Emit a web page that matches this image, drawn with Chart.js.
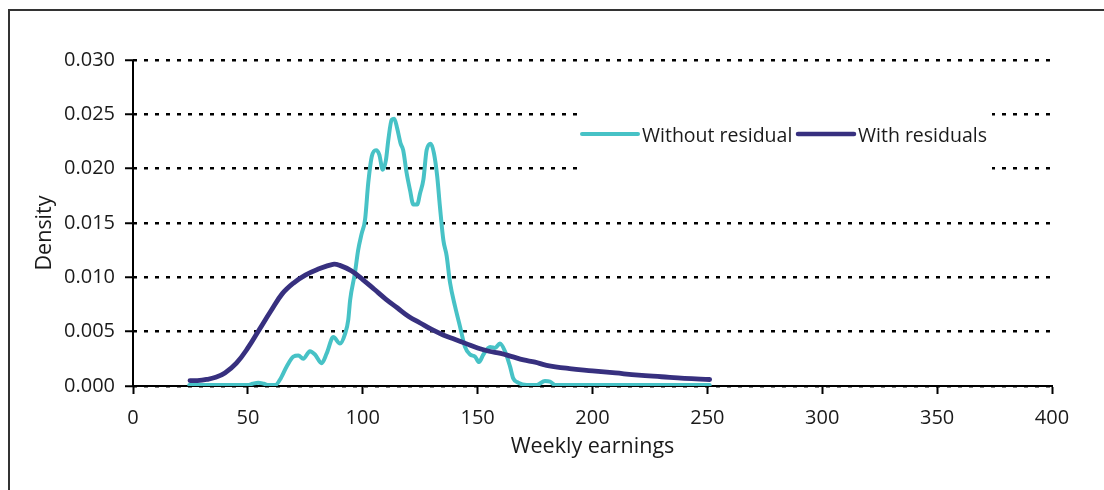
<!DOCTYPE html>
<html>
<head>
<meta charset="utf-8">
<script src="https://cdn.jsdelivr.net/npm/chart.js@4.4.1/dist/chart.umd.min.js"></script>
<style>
  html, body { margin: 0; padding: 0; background: #ffffff; }
  #c { display: block; }
</style>
</head>
<body>
<canvas id="c" width="1104" height="490"></canvas>
<script>
// ---- Data ----
const seriesNames = ["Without residual", "With residuals"];

const withoutX = [24.5, 30, 40, 50, 52, 54.5, 57, 59, 62, 64, 66.9, 69.8, 72, 74.1, 77, 79.2, 82.1, 84.3, 87.2, 90.1, 92.3, 93.7, 94.5, 96.6, 98, 99.5, 101, 102.4, 103.9, 105.8, 107.2, 108.7, 110.1, 111.1, 112.6, 113.7, 115, 116.5, 117.6, 119.1, 120.6, 122, 123.7, 124.9, 126.4, 127.8, 129.6, 131, 132.4, 133.6, 135.1, 136.5, 138, 140.2, 142.3, 144.5, 146.7, 148.9, 150.6, 152.5, 155.4, 157.6, 159.7, 161.9, 164.1, 165.5, 167.7, 171.4, 175.7, 179.3, 181.5, 183.7, 190, 200, 220, 251];
const withoutY = [0.0001, 0.0001, 0.0001, 0.0001, 0.0002, 0.0003, 0.0002, 0.0001, 0.0001, 0.0006, 0.0018, 0.0027, 0.0028, 0.0025, 0.0032, 0.0029, 0.0021, 0.0030, 0.0045, 0.0039, 0.0048, 0.0061, 0.0079, 0.0104, 0.0125, 0.0140, 0.0153, 0.0187, 0.0211, 0.0217, 0.0213, 0.0199, 0.0208, 0.0226, 0.0245, 0.0246, 0.0237, 0.0223, 0.0217, 0.0196, 0.0180, 0.0167, 0.0167, 0.0177, 0.0190, 0.0217, 0.0223, 0.0214, 0.0193, 0.0165, 0.0134, 0.0120, 0.0095, 0.0073, 0.0055, 0.0036, 0.0029, 0.0027, 0.0022, 0.0029, 0.0036, 0.0035, 0.0039, 0.0032, 0.0018, 0.0007, 0.0003, 0.0001, 0.0001, 0.00045, 0.0004, 0.0001, 0.0001, 0.0001, 0.0001, 0.0001];

const withX = [24.8, 28, 32, 36, 40, 45, 50, 55, 60, 65, 70, 75, 80, 87, 90, 95, 100, 105, 110, 115, 120, 125, 130, 135, 140, 145, 150, 155, 160, 165, 170, 175, 180, 190, 200, 210, 220, 230, 240, 251];
const withY = [0.0005, 0.0005, 0.0006, 0.0008, 0.0012, 0.0021, 0.0035, 0.0052, 0.0069, 0.0085, 0.0095, 0.0102, 0.0107, 0.0112, 0.0111, 0.0106, 0.0098, 0.0089, 0.0080, 0.0072, 0.0064, 0.0058, 0.0052, 0.0047, 0.0043, 0.0039, 0.0035, 0.0032, 0.0030, 0.0027, 0.0024, 0.0022, 0.0019, 0.0016, 0.0014, 0.0012, 0.0010, 0.00085, 0.0007, 0.0006];

const xTitle = "Weekly earnings";
const yTitle = "Density";
const xMin = 0, xMax = 400, xStep = 50;
const yMin = 0, yMax = 0.03, yStep = 0.005;

// ---- Styles ----
const cyan = "#47C2C6";
const navy = "#37307F";
const FONT = "'Open Sans', 'Noto Sans', sans-serif";
const TEXT = "#1a1a1a";

function pts(xs, ys) { return xs.map((x, i) => ({ x: x, y: ys[i] })); }

Chart.defaults.font.family = FONT;
Chart.defaults.color = TEXT;

const framePlugin = {
  id: 'frame',
  beforeDraw(chart) {
    const ctx = chart.ctx;
    ctx.save();
    ctx.fillStyle = '#ffffff';
    ctx.fillRect(0, 0, chart.width, chart.height);
    ctx.strokeStyle = '#333333';
    ctx.lineWidth = 2;
    ctx.beginPath();
    ctx.moveTo(9, chart.height);
    ctx.lineTo(9, 10);
    ctx.lineTo(chart.width, 10);
    ctx.stroke();
    ctx.restore();
  },
  afterDraw(chart) {
    const ctx = chart.ctx;
    const ys = chart.scales.y;
    const area = chart.chartArea;
    ctx.save();
    // solid y axis line
    ctx.strokeStyle = '#000';
    ctx.lineWidth = 2;
    ctx.beginPath();
    ctx.moveTo(ys.right, area.top);
    ctx.lineTo(ys.right, area.bottom);
    ctx.stroke();
    // y axis title
    ctx.save();
    ctx.translate(45, (area.top + area.bottom) / 2 + 10);
    ctx.rotate(-Math.PI / 2);
    ctx.font = "21.5px " + FONT;
    ctx.fillStyle = TEXT;
    ctx.textAlign = 'center';
    ctx.textBaseline = 'middle';
    ctx.fillText(yTitle, 0, 0);
    ctx.restore();
    // legend box
    ctx.fillStyle = '#ffffff';
    ctx.fillRect(578, 104, 414, 76);
    const items = [
      { x: 582, color: cyan, w: 4, label: chart.data.datasets[0].label },
      { x: 798, color: navy, w: 4.5, label: chart.data.datasets[1].label }
    ];
    const cy = 134;
    ctx.font = "19.5px " + FONT;
    ctx.textBaseline = 'middle';
    ctx.textAlign = 'left';
    items.forEach(it => {
      ctx.strokeStyle = it.color;
      ctx.lineWidth = it.w;
      ctx.lineCap = 'round';
      ctx.beginPath();
      ctx.moveTo(it.x, cy);
      ctx.lineTo(it.x + 56, cy);
      ctx.stroke();
      ctx.fillStyle = TEXT;
      ctx.fillText(it.label, it.x + 60, cy + 2);
    });
    ctx.restore();
  }
};

new Chart(document.getElementById('c'), {
  type: 'line',
  data: {
    datasets: [
      { label: seriesNames[0], data: pts(withoutX, withoutY), borderColor: cyan, borderWidth: 4, pointRadius: 0, cubicInterpolationMode: 'monotone', borderCapStyle: 'round', borderJoinStyle: 'round', fill: false, order: 2 },
      { label: seriesNames[1], data: pts(withX, withY), borderColor: navy, borderWidth: 4.8, pointRadius: 0, tension: 0.4, borderCapStyle: 'round', borderJoinStyle: 'round', fill: false, order: 1 }
    ]
  },
  options: {
    responsive: false,
    animation: false,
    devicePixelRatio: 1,
    layout: { padding: { left: 0, top: 60, right: 52, bottom: 0 } },
    plugins: { legend: { display: false }, tooltip: { enabled: false } },
    scales: {
      x: {
        type: 'linear',
        min: xMin, max: xMax,
        afterFit(scale) { scale.height = 104; },
        ticks: { stepSize: xStep, font: { size: 20 }, color: TEXT, padding: 12, maxRotation: 0 },
        grid: { drawOnChartArea: false, drawTicks: true, tickLength: 8, tickColor: '#000', tickWidth: 2 },
        border: { display: true, color: '#000', width: 2 },
        title: { display: true, text: xTitle, font: { size: 21.5 }, color: TEXT, padding: { top: 0, bottom: 30 } }
      },
      y: {
        type: 'linear',
        min: yMin, max: yMax,
        afterFit(scale) { scale.width = 133; },
        ticks: { stepSize: yStep, font: { size: 20 }, color: TEXT, padding: 10, callback: v => v.toFixed(3) },
        grid: { drawOnChartArea: true, drawTicks: true, tickLength: 8, color: '#000', lineWidth: 2.5, tickColor: '#000', tickWidth: 2, tickBorderDash: [] },
        border: { display: false, dash: [4, 7] },
        title: { display: false }
      }
    }
  },
  plugins: [framePlugin]
});
</script>
</body>
</html>
